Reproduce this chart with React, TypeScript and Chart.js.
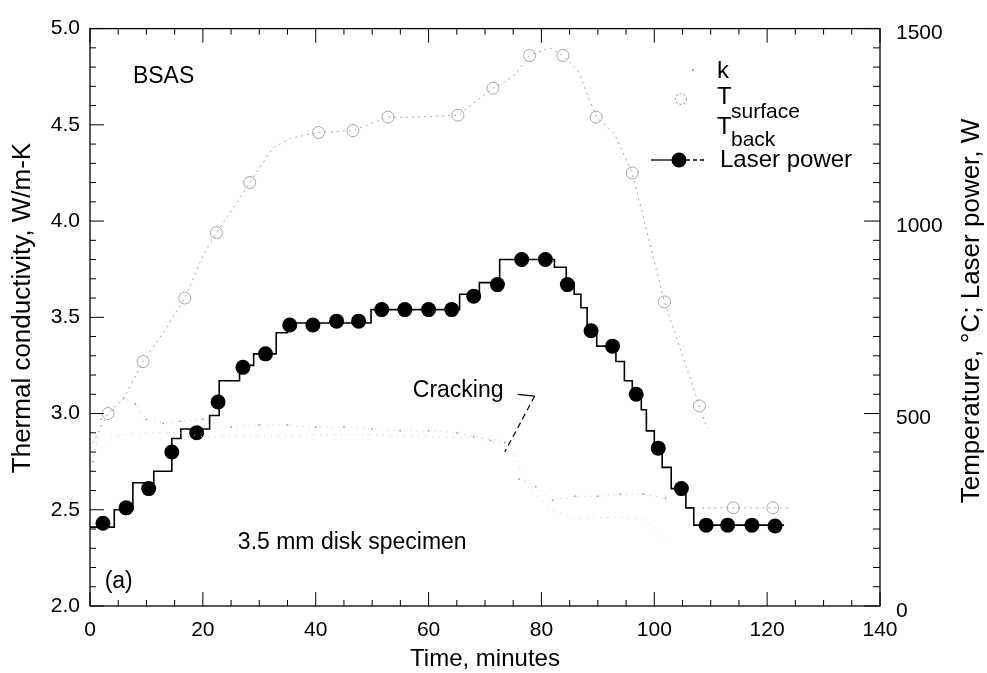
import React, { useEffect, useRef } from "react";
import { Chart, registerables } from "chart.js";

Chart.register(...registerables);

// ---- Data (time in minutes) ----
// Laser power markers (W, right axis)
const laserT = [2.3, 6.4, 10.4, 14.5, 18.9, 22.7, 27.1, 31.1, 35.4, 39.5, 43.7, 47.6, 51.7, 55.8, 60, 64.1, 68, 72.2, 76.5, 80.7, 84.6, 88.8, 92.6, 96.8, 100.7, 104.8, 109.2, 113, 117.3, 121.4];
const laserW = [215, 255, 305, 400, 450, 530, 620, 655, 730, 730, 740, 740, 770, 770, 770, 770, 805, 835, 900, 900, 835, 715, 675, 550, 410, 305, 210, 210, 210, 208];

// Laser power set-point steps (W, right axis)
const stepT = [0, 4.3, 7.6, 11.3, 14.5, 16.1, 21.2, 22.9, 26.5, 29, 33, 35, 49.8, 65.5, 69, 72.6, 82.3, 84.4, 85.8, 87, 88.1, 89.8, 93.2, 94.7, 96.1, 97.7, 98.6, 100, 101.4, 103, 105.6, 107, 123];
const stepW = [205, 250, 320, 350, 435, 460, 495, 585, 625, 655, 710, 735, 770, 810, 840, 900, 880, 840, 810, 775, 715, 675, 635, 585, 545, 510, 455, 410, 360, 305, 255, 210, 210];

// Surface temperature (°C, right axis)
const surfT = [0, 3.2, 6, 9.4, 13, 16.8, 20, 22.4, 25, 28.3, 32.4, 35.5, 40.5, 46.6, 52.8, 58, 65.2, 71.4, 75, 77.9, 81.4, 83.8, 86.5, 89.7, 93, 96.1, 100, 101.8, 105, 108, 109.4, 110, 108.5, 114, 121, 124];
const surfC = [410, 500, 540, 635, 710, 800, 910, 970, 1025, 1100, 1190, 1215, 1230, 1235, 1270, 1270, 1275, 1345, 1375, 1430, 1450, 1430, 1390, 1270, 1225, 1125, 895, 790, 650, 520, 460, null, 255, 255, 255, 255];
const surfMarkT = [3.2, 9.4, 16.8, 22.4, 28.3, 40.5, 46.6, 52.8, 65.2, 71.4, 77.9, 83.8, 89.7, 96.1, 101.8, 108, 114, 121];
const surfMarkC = [500, 635, 800, 970, 1100, 1230, 1235, 1270, 1275, 1345, 1430, 1430, 1270, 1125, 790, 520, 255, 255];

// Back-face temperature (°C, right axis)
const backT = [1, 4, 8, 12, 16, 20, 30, 40, 50, 60, 70, 74, 78, 82, 86, 90, 94, 98, 102];
const backC = [400, 440, 450, 450, 450, 440, 440, 445, 445, 440, 435, 430, 300, 250, 225, 230, 230, 225, 175];

// Thermal conductivity (W/m-K, left axis)
const kT = [0.5, 2, 4, 6, 8, 10, 13, 16, 20, 25, 30, 35, 40, 45, 50, 55, 60, 65, 68, 71, 73.5, null, 76, 79, 82, 86, 90, 94, 98, 102];
const kV = [2.75, 2.97, 3.02, 3.08, 3.05, 2.97, 2.95, 2.96, 2.97, 2.93, 2.94, 2.94, 2.93, 2.93, 2.92, 2.91, 2.91, 2.9, 2.88, 2.86, 2.85, null, 2.66, 2.62, 2.55, 2.57, 2.57, 2.58, 2.58, 2.56];

const FONT = '"Liberation Sans", Arial, Helvetica, sans-serif';

const pts = (xs: (number | null)[], ys: (number | null)[]) =>
  xs.map((x, i) => ({ x: x === null ? (xs[i - 1] as number) + 0.5 : x, y: ys[i] }));

const overlay = {
  id: "overlay",
  afterDraw(chart: any) {
    const { ctx, chartArea: a, scales } = chart;
    const xs = scales.x, ys = scales.y, ys1 = scales.y1;
    const X = (v: number) => xs.getPixelForValue(v);
    const Y = (v: number) => ys.getPixelForValue(v);
    ctx.save();
    ctx.strokeStyle = "#000";
    const line = (x0: number, y0: number, x1: number, y1: number) => {
      ctx.beginPath();
      ctx.moveTo(x0, y0);
      ctx.lineTo(x1, y1);
      ctx.stroke();
    };
    // frame
    ctx.lineWidth = 1.3;
    ctx.strokeRect(a.left, a.top, a.right - a.left, a.bottom - a.top);
    // inward ticks
    ctx.lineWidth = 1;
    for (let v = 0; v <= 140; v += 5) {
      const px = X(v);
      const len = v % 20 === 0 ? 14 : 6;
      line(px, a.bottom, px, a.bottom - len);
      line(px, a.top, px, a.top + len);
    }
    for (let i = 0; i <= 30; i++) {
      const py = Y(2 + i * 0.1);
      const len = i % 5 === 0 ? 14 : 6;
      line(a.left, py, a.left + len, py);
    }
    for (let v = 0; v <= 1500; v += 50) {
      const py = ys1.getPixelForValue(v);
      const len = v % 500 === 0 ? 16 : 7;
      line(a.right, py, a.right - len, py);
    }

    ctx.fillStyle = "#000";
    ctx.textBaseline = "middle";
    // axis titles
    ctx.font = `24px ${FONT}`;
    ctx.textAlign = "center";
    ctx.fillText("Time, minutes", (a.left + a.right) / 2, 659);
    ctx.save();
    ctx.translate(23, 308);
    ctx.rotate(-Math.PI / 2);
    ctx.font = `26px ${FONT}`;
    ctx.fillText("Thermal conductivity, W/m-K", 0, 0);
    ctx.restore();
    ctx.save();
    ctx.translate(972, 311);
    ctx.rotate(-Math.PI / 2);
    ctx.font = `26px ${FONT}`;
    ctx.fillText("Temperature, °C; Laser power, W", 0, 0);
    ctx.restore();

    // annotations
    ctx.textAlign = "left";
    ctx.font = `23px ${FONT}`;
    ctx.fillText("BSAS", X(7.6), Y(4.75));
    ctx.fillText("3.5 mm disk specimen", X(26.2), Y(2.33));
    ctx.fillText("(a)", X(2.6), Y(2.125));
    ctx.fillText("Cracking", X(57.2), Y(3.12));
    ctx.lineWidth = 1.2;
    line(X(75.8), Y(3.1), X(78.8), Y(3.09));
    ctx.setLineDash([6, 4]);
    line(X(78.8), Y(3.09), X(73.5), Y(2.8));
    ctx.setLineDash([]);

    // legend
    const lx = a.right - 163; // text x
    ctx.fillStyle = "#aaa";
    ctx.beginPath();
    ctx.arc(lx - 24, 70, 1.2, 0, Math.PI * 2);
    ctx.fill();
    ctx.fillStyle = "#000";
    ctx.font = `24px ${FONT}`;
    ctx.fillText("k", lx, 71);
    ctx.strokeStyle = "#aaa";
    ctx.setLineDash([2, 2]);
    ctx.beginPath();
    ctx.arc(lx - 36, 99, 5.5, 0, Math.PI * 2);
    ctx.stroke();
    ctx.setLineDash([]);
    ctx.fillText("T", lx, 97);
    ctx.font = `21px ${FONT}`;
    ctx.fillText("surface", lx + 14, 112);
    ctx.font = `24px ${FONT}`;
    ctx.fillText("T", lx, 127);
    ctx.font = `21px ${FONT}`;
    ctx.fillText("back", lx + 14, 140);
    ctx.font = `24px ${FONT}`;
    ctx.fillText("Laser power", lx + 3, 160);
    ctx.strokeStyle = "#000";
    ctx.lineWidth = 1.3;
    line(lx - 66, 160, lx - 38, 160);
    ctx.setLineDash([4, 3]);
    line(lx - 38, 160, lx - 12, 160);
    ctx.setLineDash([]);
    ctx.beginPath();
    ctx.arc(lx - 38, 160, 7.5, 0, Math.PI * 2);
    ctx.fill();
    ctx.restore();
  },
};

export default function App() {
  const ref = useRef<HTMLCanvasElement | null>(null);
  useEffect(() => {
    if (!ref.current) return;
    const tickFont = { family: FONT, size: 21 };
    const chart = new Chart(ref.current, {
      type: "line",
      data: {
        datasets: [
          {
            label: "k",
            data: pts(kT, kV),
            yAxisID: "y",
            borderColor: "#c0c0c0",
            backgroundColor: "#a8a8a8",
            borderWidth: 1,
            borderDash: [1, 5],
            pointRadius: 1,
            pointBorderWidth: 0,
            spanGaps: false,
          },
          {
            label: "T_back",
            data: pts(backT, backC),
            yAxisID: "y1",
            borderColor: "#cccccc",
            borderWidth: 1,
            borderDash: [1, 6],
            pointRadius: 0,
          },
          {
            label: "T_surface",
            data: pts(surfT, surfC),
            yAxisID: "y1",
            borderColor: "#a6a6a6",
            borderWidth: 1,
            borderDash: [2, 4],
            pointRadius: 0,
            spanGaps: false,
          },
          {
            label: "T_surface markers",
            data: pts(surfMarkT, surfMarkC),
            yAxisID: "y1",
            showLine: false,
            borderColor: "#a6a6a6",
            backgroundColor: "rgba(255,255,255,0)",
            pointRadius: 6,
            pointBorderWidth: 1,
          },
          {
            label: "Laser power steps",
            data: pts(stepT, stepW),
            yAxisID: "y1",
            stepped: "before",
            borderColor: "#000",
            borderWidth: 1.6,
            pointRadius: 0,
          },
          {
            label: "Laser power",
            data: pts(laserT, laserW),
            yAxisID: "y1",
            showLine: false,
            backgroundColor: "#000",
            borderColor: "#000",
            pointRadius: 7.5,
            pointBorderWidth: 0,
          },
        ],
      },
      options: {
        animation: false,
        responsive: false,
        maintainAspectRatio: false,
        layout: { padding: { top: 21, left: 0, right: 0, bottom: 0 } },
        plugins: { legend: { display: false }, tooltip: { enabled: false } },
        scales: {
          x: {
            type: "linear",
            min: 0,
            max: 140,
            ticks: { stepSize: 20, font: tickFont, color: "#000", padding: 12, maxRotation: 0 },
            grid: { display: false, drawTicks: false },
            border: { display: false },
            afterFit: (s: any) => {
              s.height = 67;
            },
          },
          y: {
            type: "linear",
            position: "left",
            min: 2,
            max: 5,
            ticks: {
              stepSize: 0.5,
              font: tickFont,
              color: "#000",
              padding: 10,
              callback: (v: any) => Number(v).toFixed(1),
            },
            grid: { display: false, drawTicks: false },
            border: { display: false },
            afterFit: (s: any) => {
              s.width = 90;
            },
          },
          y1: {
            type: "linear",
            position: "right",
            min: 0,
            max: 1500,
            ticks: {
              stepSize: 500,
              font: tickFont,
              color: "#000",
              padding: 16,
              labelOffset: 5,
              callback: (v: any) => String(v),
            },
            grid: { display: false, drawTicks: false },
            border: { display: false },
            afterFit: (s: any) => {
              s.width = 107;
            },
          },
        },
      },
      plugins: [overlay],
    } as any);
    return () => chart.destroy();
  }, []);
  return (
    <div style={{ position: "absolute", left: 0, top: 0, width: 987, height: 673, background: "#fff" }}>
      <canvas ref={ref} width={987} height={673} style={{ display: "block" }} />
    </div>
  );
}
